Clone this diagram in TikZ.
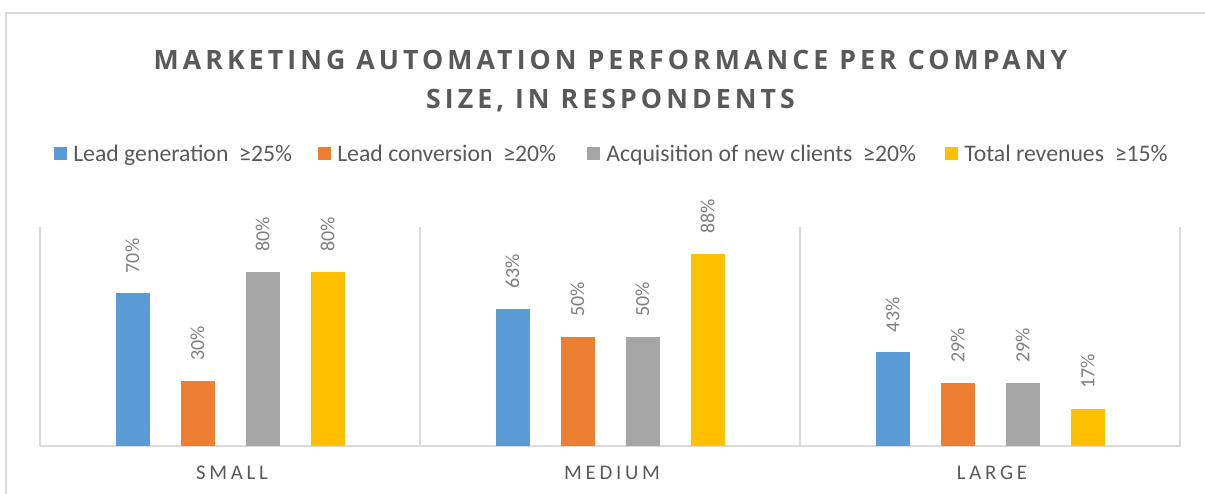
\documentclass[tikz,border=0pt]{standalone}
\usepackage{fontspec}
\setmainfont{Carlito}
\newfontfamily\titlefont[LetterSpace=15.3]{Open Sans}
\newfontfamily\catfont[LetterSpace=18]{Carlito}
\usetikzlibrary{calc}
\definecolor{leadgen}{HTML}{5B9BD5}
\definecolor{leadconv}{HTML}{ED7D31}
\definecolor{newclients}{HTML}{A5A5A5}
\definecolor{revenues}{HTML}{FFC000}
\definecolor{gridgray}{HTML}{D9D9D9}
\definecolor{textgray}{HTML}{595959}
\definecolor{labelgray}{HTML}{7F7F7F}
\tikzstyle{gridline}=[draw=gridgray,line width=1.1pt]
\tikzstyle{frame}=[draw=gridgray,line width=1.5pt]
\tikzstyle{titletext}=[anchor=base,inner sep=0pt,text=textgray,font=\titlefont\bfseries\fontsize{20}{24}\selectfont]
\tikzstyle{legendtext}=[anchor=base west,inner sep=0pt,text=textgray,font=\fontsize{17.8}{20}\selectfont]
\tikzstyle{vallabel}=[rotate=90,anchor=west,inner sep=0pt,text=labelgray,font=\fontsize{15}{18}\selectfont]
\tikzstyle{catlabel}=[anchor=base,inner sep=0pt,text=textgray,font=\catfont\fontsize{15.6}{18}\selectfont]

\begin{document}
\begin{tikzpicture}[x=0.75pt,y=-0.75pt]
    \useasboundingbox (0,0) rectangle (1205,493);
    \draw[frame] (6,13) rectangle (1230,520);

    % title
    \node[titletext] (title) at (610.5,69) {MARKETING AUTOMATION PERFORMANCE PER COMPANY};
    \node[titletext] (title2) at (610.5,108) {SIZE, IN RESPONDENTS};

    % legend
    \foreach \x/\col/\txt [count=\k] in {54/leadgen/{Lead generation~~≥25\%}, 318/leadconv/{Lead conversion~~≥20\%},
        587/newclients/{Acquisition of new clients~~≥20\%}, 945/revenues/{Total revenues~~≥15\%}}
    {
        \fill[\col] (\x,147) rectangle ++(13,13);
        \node[legendtext] (leg\k) at (\x+19,161) {\txt};
    }

    % grid and axis
    \foreach \x in {40,420,800,1180}
        \draw[gridline] (\x,227) -- (\x,446);
    \coordinate (axisleft) at (40,446);
    \coordinate (axisright) at (1181,446);
    \draw[gridline] (axisleft) -- (axisright);

    % bars, values and category names
    \foreach \cat/\a/\b/\c/\d [count=\i from 0] in {SMALL/70/30/80/80, MEDIUM/63/50/50/88, LARGE/43/29/29/17}
    {
        \foreach \v/\col/\off [count=\j] in {\a/leadgen/-97.5, \b/leadconv/-32.5, \c/newclients/32.5, \d/revenues/97.5}
        {
            \fill[\col] ({230+380*\i+\off-17},446) rectangle ({230+380*\i+\off+17},{446-2.18*\v});
            \node[vallabel] (val\i\j) at ({230+380*\i+\off},{446-2.18*\v-20}) {\v\%};
        }
        \node[catlabel] (cat\i) at ({232+380*\i},479.5) {\cat};
    }
\end{tikzpicture}
\end{document}
